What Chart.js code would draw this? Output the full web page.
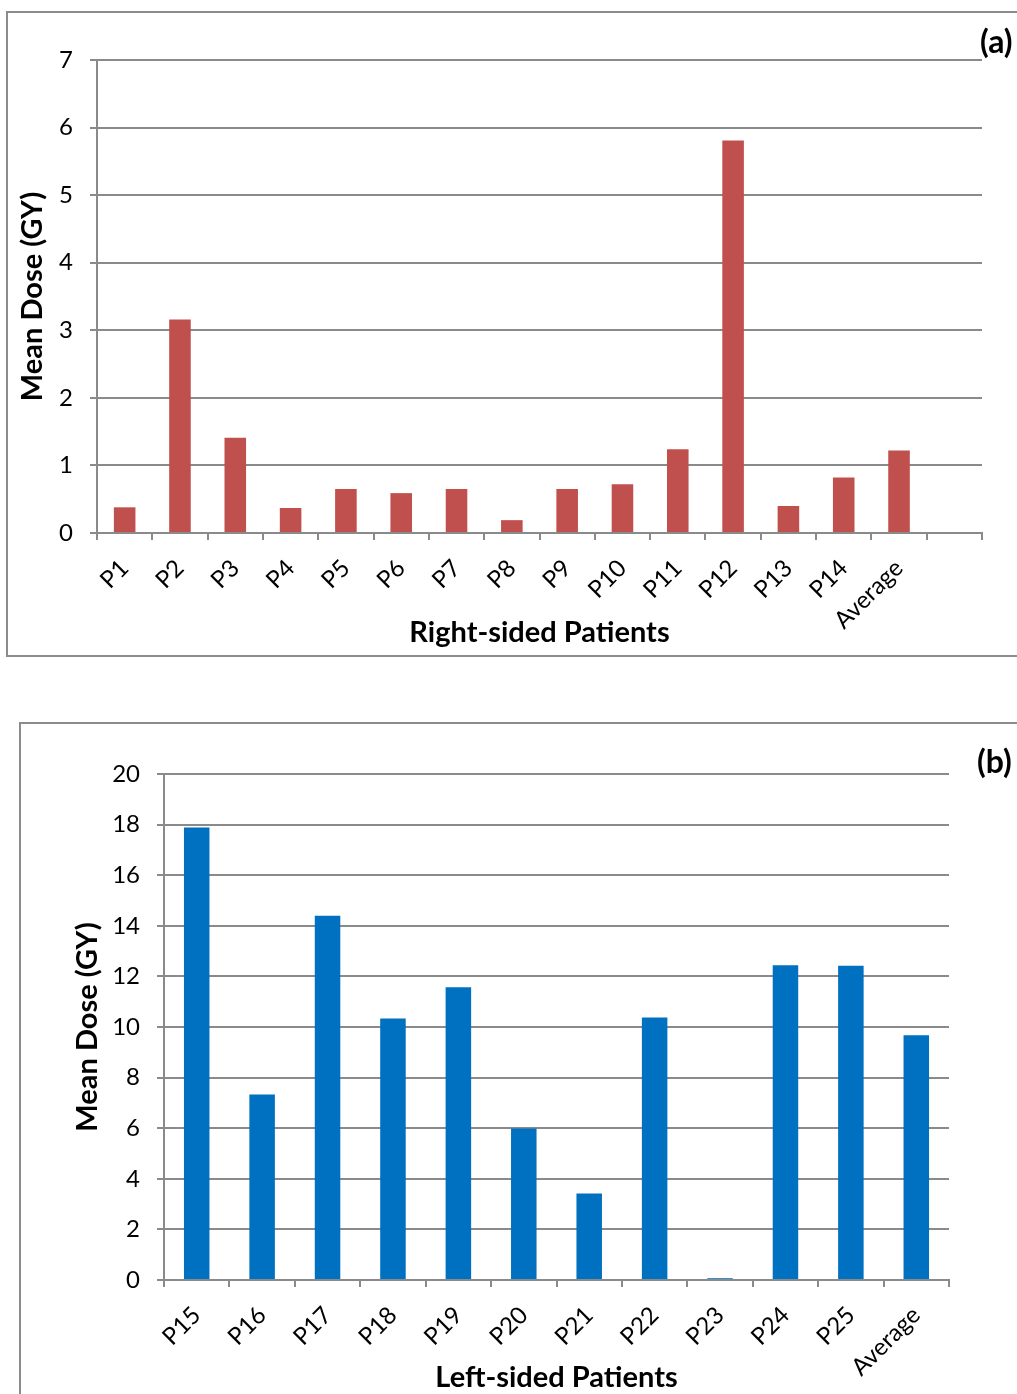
<!DOCTYPE html>
<html lang="en">
<head>
<meta charset="UTF-8">
<title>Mean Dose</title>
<script src="https://cdn.jsdelivr.net/npm/chart.js"></script>
<style>
  html, body { margin: 0; padding: 0; background: #fff; overflow: hidden; width: 1017px; height: 1394px; }
  .frame { position: absolute; border: 2px solid #8c8c8c; box-sizing: border-box; }
  .tag { position: absolute; font: bold 32px Lato, sans-serif; color: #000; }
  canvas { position: absolute; left: 0; }
</style>
</head>
<body>
<div class="frame" style="left:6px; top:11px; width:1040px; height:646px;"></div>
<div class="frame" style="left:19px; top:722px; width:1040px; height:700px;"></div>
<canvas id="chartA" width="1017" height="660" style="top:0"></canvas>
<canvas id="chartB" width="1017" height="700" style="top:700px"></canvas>
<div class="tag" style="left:980px; top:21px">(a)</div>
<div class="tag" style="left:977px; top:741px">(b)</div>

<script>
// (a) right-sided patients
const rightLabels = ["P1", "P2", "P3", "P4", "P5", "P6", "P7", "P8", "P9", "P10", "P11", "P12", "P13", "P14", "Average", ""];
const rightDose = [0.38, 3.16, 1.41, 0.37, 0.65, 0.59, 0.65, 0.19, 0.65, 0.72, 1.24, 5.81, 0.40, 0.82, 1.22, null];

// (b) left-sided patients
const leftLabels = ["P15", "P16", "P17", "P18", "P19", "P20", "P21", "P22", "P23", "P24", "P25", "Average"];
const leftDose = [17.89, 7.33, 14.4, 10.34, 11.57, 5.99, 3.42, 10.38, 0.07, 12.44, 12.42, 9.67];

const gray = '#8a8a8a';
const tickFont = { family: 'Lato, sans-serif', size: 24 };
const titleFont = { family: 'Lato, sans-serif', size: 29, weight: 'bold' };

function makeChart(id, labels, values, color, opt) {
    return new Chart(document.getElementById(id), {
        type: 'bar',
        data: {
            labels: labels,
            datasets: [{
                data: values,
                backgroundColor: color,
                borderWidth: 0,
                categoryPercentage: 1,
                barPercentage: 0.39
            }]
        },
        options: {
            responsive: false,
            animation: false,
            layout: { padding: { top: opt.top, right: opt.right, left: 0, bottom: 0 } },
            plugins: { legend: { display: false }, tooltip: { enabled: false } },
            scales: {
                x: {
                    afterFit: s => { s.height = opt.xHeight; },
                    grid: { drawOnChartArea: false, drawTicks: true, tickLength: 7, color: gray, lineWidth: 2 },
                    border: { display: true, color: gray, width: 2 },
                    ticks: { color: '#000', font: tickFont, minRotation: 45, maxRotation: 45, autoSkip: false, padding: 14 },
                    title: { display: true, text: opt.xTitle, color: '#000', font: titleFont, padding: { top: 0, bottom: opt.xTitlePad } }
                },
                y: {
                    min: 0,
                    max: opt.max,
                    afterFit: s => { s.width = opt.yWidth; },
                    grid: { color: gray, lineWidth: 2, tickLength: 7 },
                    border: { display: true, color: gray, width: 2 },
                    ticks: { stepSize: opt.step, color: '#000', font: tickFont, padding: 17 },
                    title: { display: true, text: 'Mean Dose (GY)', color: '#000', font: titleFont, padding: { top: opt.yTitlePad, bottom: 0 } }
                }
            }
        }
    });
}

makeChart('chartA', rightLabels, rightDose, '#C0504D', {
    top: 60, right: 35, xHeight: 127, yWidth: 97, max: 7, step: 1,
    xTitle: 'Right-sided Patients', xTitlePad: 10, yTitlePad: 15
});

makeChart('chartB', leftLabels, leftDose, '#0070C0', {
    top: 74, right: 68, xHeight: 120, yWidth: 164, max: 20, step: 2,
    xTitle: 'Left-sided Patients', xTitlePad: 5, yTitlePad: 70
});
</script>
</body>
</html>
